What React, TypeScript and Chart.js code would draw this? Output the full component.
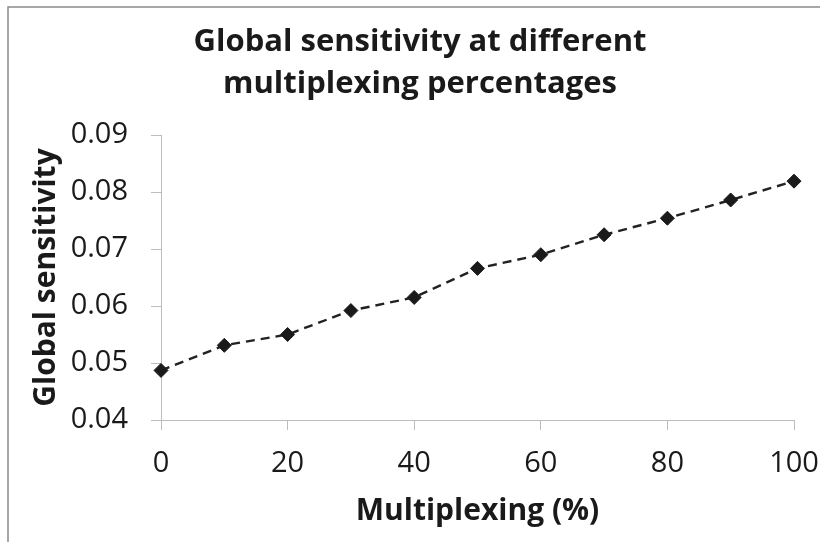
import React, { useEffect, useRef } from "react";
import { Chart, registerables } from "chart.js";

Chart.register(...registerables);

const titleLines = ["Global sensitivity at different", "multiplexing percentages"];
const xAxisTitle = "Multiplexing (%)";
const yAxisTitle = "Global sensitivity";
const multiplexing = [0, 10, 20, 30, 40, 50, 60, 70, 80, 90, 100];
const sensitivity = [0.0487, 0.0531, 0.055, 0.0592, 0.0615, 0.0666, 0.069, 0.0725, 0.0754, 0.0786, 0.0819];
const xTicks = { min: 0, max: 100, step: 20 };
const yTicks = { min: 0.04, max: 0.09, step: 0.01 };

const FONT = "'Open Sans', 'DejaVu Sans', sans-serif";
const TEXT = "#1a1a1a";
const AXIS = "#bdbdbd";

const frame = {
  id: "frame",
  beforeDraw(chart: any) {
    const ctx = chart.ctx;
    ctx.save();
    ctx.fillStyle = "#ffffff";
    ctx.fillRect(0, 0, chart.width, chart.height);
    ctx.strokeStyle = "#8a8a8a";
    ctx.lineWidth = 1.5;
    ctx.beginPath();
    ctx.moveTo(8, chart.height + 5);
    ctx.lineTo(8, 7);
    ctx.lineTo(chart.width + 5, 7);
    ctx.stroke();
    ctx.restore();
  },
};

export default function App() {
  const ref = useRef<HTMLCanvasElement>(null);
  useEffect(() => {
    if (!ref.current) return;
    const chart = new Chart(ref.current, {
      type: "line",
      data: {
        datasets: [
          {
            data: multiplexing.map((x, i) => ({ x, y: sensitivity[i] })),
            borderColor: "#222222",
            borderWidth: 2.4,
            borderDash: [9, 6],
            pointStyle: "rectRot",
            pointRadius: 7,
            pointBorderWidth: 1,
            pointBackgroundColor: "#1a1a1a",
            pointBorderColor: "#1a1a1a",
            tension: 0,
            clip: false,
          },
        ],
      },
      options: {
        responsive: false,
        animation: false,
        layout: { padding: { left: 0, right: -20, top: 0, bottom: 0 } },
        plugins: {
          legend: { display: false },
          tooltip: { enabled: false },
          title: {
            display: true,
            text: titleLines,
            color: TEXT,
            font: { family: FONT, size: 31, weight: "bold", lineHeight: 42 / 31 },
            padding: { top: 21, bottom: 30 },
          },
        },
        scales: {
          x: {
            type: "linear",
            min: xTicks.min,
            max: xTicks.max,
            afterFit: (s: any) => {
              s.height = 122;
              s.paddingRight = 26;
              s.paddingLeft = 0;
            },
            ticks: {
              stepSize: xTicks.step,
              color: TEXT,
              font: { family: FONT, size: 29 },
              padding: 16,
              maxRotation: 0,
            },
            grid: { drawOnChartArea: false, drawTicks: true, tickLength: 10, color: AXIS },
            border: { display: true, color: AXIS, width: 1 },
            title: {
              display: true,
              text: xAxisTitle,
              color: TEXT,
              font: { family: FONT, size: 30, weight: "bold" },
              padding: { top: 0, bottom: 13 },
            },
          },
          y: {
            type: "linear",
            min: yTicks.min,
            max: yTicks.max,
            afterFit: (s: any) => {
              s.width = 161;
            },
            ticks: {
              stepSize: yTicks.step,
              color: TEXT,
              font: { family: FONT, size: 29 },
              padding: 23,
              callback: (v: any) => Number(v).toFixed(2),
            },
            grid: { drawOnChartArea: false, drawTicks: true, tickLength: 10, color: AXIS },
            border: { display: true, color: AXIS, width: 1 },
            title: {
              display: true,
              text: yAxisTitle,
              color: TEXT,
              font: { family: FONT, size: 30, weight: "bold" },
              padding: { top: 28, bottom: 0 },
            },
          },
        },
      },
      plugins: [frame],
    });
    return () => chart.destroy();
  }, []);
  return (
    <div style={{ position: "absolute", left: 0, top: 0, width: 820, height: 542 }}>
      <canvas ref={ref} width={820} height={542} />
    </div>
  );
}
